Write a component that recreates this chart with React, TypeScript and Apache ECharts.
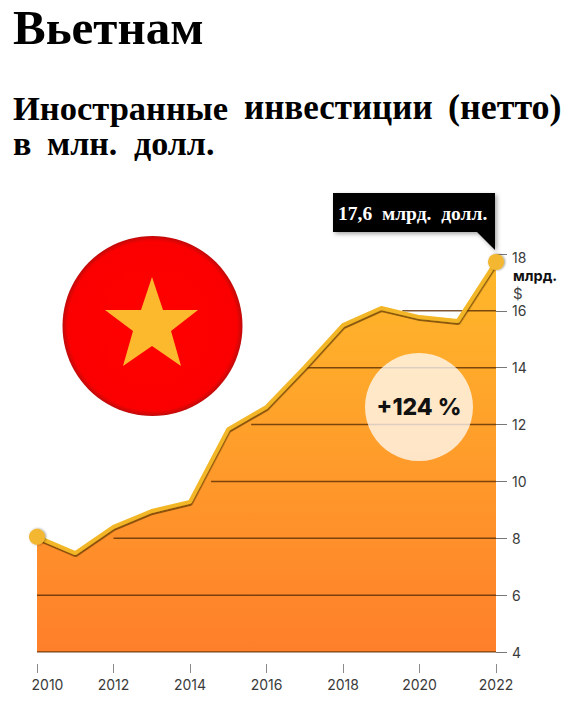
import React, { useEffect, useRef } from "react";
import * as echarts from "echarts";

const years = [2010, 2011, 2012, 2013, 2014, 2015, 2016, 2017, 2018, 2019, 2020, 2021, 2022];
const investment = [8.05, 7.48, 8.4, 8.96, 9.28, 11.84, 12.62, 14.02, 15.5, 16.1, 15.78, 15.64, 17.72];
const gridLevels = [4, 6, 8, 10, 12, 14, 16];
const gridStarts = [2010, 2010, 2012, 2014.55, 2015.6, 2017, 2019.55];
const titleText = "Вьетнам";
const subtitleWords = ["Иностранные", "инвестиции", "(нетто)"];
const subtitleLine2 = ["в", "млн.", "долл."];

const SERIF = '"Liberation Serif", "DejaVu Serif", serif';
const SANS = 'Inter, "Noto Sans", sans-serif';

export default function App() {
  const ref = useRef<HTMLDivElement>(null);
  useEffect(() => {
    const chart = echarts.init(ref.current!, undefined, { renderer: "svg" });
    const pairs = years.map((y, i) => [y, investment[i]]);
    chart.setOption({
      animation: false,
      backgroundColor: "#ffffff",
      grid: { left: 37, right: 73, top: 254, bottom: 49 },
      xAxis: {
        type: "value",
        min: 2010,
        max: 2022,
        interval: 2,
        offset: 12,
        splitLine: { show: false },
        axisLine: { show: false },
        axisTick: { show: true, length: 9, lineStyle: { color: "#8a8a8a", width: 1 } },
        axisLabel: {
          margin: 13,
          color: "#3a3a3a",
          fontFamily: SANS,
          fontSize: 14,
          formatter: (v: number) => (v === 2010 ? `{first|${v}}` : String(v)),
          rich: {
            first: { padding: [0, 0, 0, 21], color: "#3a3a3a", fontFamily: SANS, fontSize: 14 },
          },
        },
      },
      yAxis: {
        type: "value",
        position: "right",
        min: 4,
        max: 18,
        interval: 2,
        splitLine: { show: false },
        axisLine: { show: false },
        axisTick: { show: true, length: 11, lineStyle: { color: "#777777", width: 1 } },
        axisLabel: {
          margin: 16,
          color: "#3a3a3a",
          fontFamily: SANS,
          fontSize: 14,
          formatter: (v: number) => (v === 18 ? `{top|${v}}` : String(v)),
          rich: {
            top: { padding: [6, 0, 0, 0], color: "#3a3a3a", fontFamily: SANS, fontSize: 14 },
          },
        },
      },
      series: [
        {
          type: "line",
          data: pairs,
          symbol: "none",
          z: 2,
          lineStyle: { width: 0 },
          areaStyle: {
            opacity: 1,
            color: new echarts.graphic.LinearGradient(0, 0, 0, 1, [
              { offset: 0, color: "#FFB92B" },
              { offset: 1, color: "#FF7F2A" },
            ]),
          },
        },
        ...gridLevels.map((lvl, i) => ({
          type: "line",
          data: [[gridStarts[i], lvl], [2022, lvl]],
          symbol: "none",
          z: 3,
          silent: true,
          lineStyle: { width: 1.5, color: "rgba(90,45,5,0.8)" },
        })),
        {
          type: "line",
          data: pairs,
          symbol: "none",
          z: 4,
          lineStyle: {
            width: 4,
            color: "#F2B628",
            shadowColor: "rgba(90,50,0,0.7)",
            shadowBlur: 1,
            shadowOffsetY: 2,
            shadowOffsetX: 0.5,
          },
        },
        {
          type: "scatter",
          data: [pairs[0], pairs[pairs.length - 1]],
          symbol: "circle",
          symbolSize: 16,
          clip: false,
          z: 5,
          itemStyle: { opacity: 1, color: "#F3B733", shadowColor: "rgba(60,40,0,0.5)", shadowBlur: 2, shadowOffsetX: 1 },
        },
      ],
      graphic: [
        { type: "text", x: 13, y: 3, style: { text: titleText, font: `bold 49px ${SERIF}`, fill: "#000" } },
        { type: "text", x: 13, y: 90, style: { text: subtitleWords[0], font: `bold 34.5px ${SERIF}`, fill: "#000" } },
        { type: "text", x: 244, y: 90, style: { text: subtitleWords[1], font: `bold 35px ${SERIF}`, fill: "#000" } },
        { type: "text", x: 448, y: 89, style: { text: subtitleWords[2], font: `bold 36px ${SERIF}`, fill: "#000" } },
        { type: "text", x: 13, y: 126, style: { text: subtitleLine2[0], font: `bold 34px ${SERIF}`, fill: "#000" } },
        { type: "text", x: 47, y: 126, style: { text: subtitleLine2[1], font: `bold 34px ${SERIF}`, fill: "#000" } },
        { type: "text", x: 134, y: 126, style: { text: subtitleLine2[2], font: `bold 34px ${SERIF}`, fill: "#000" } },
        {
          type: "polygon",
          z: 10,
          shape: { points: [[333, 193], [495, 193], [495, 250], [477, 232], [333, 232]] },
          style: { fill: "#000", shadowColor: "rgba(0,0,0,0.35)", shadowBlur: 4, shadowOffsetX: 2, shadowOffsetY: 2 },
        },
        { type: "text", z: 11, x: 338, y: 203, style: { text: "17,6  млрд.  долл.", font: `bold 19.5px ${SERIF}`, fill: "#fff" } },
        { type: "text", z: 11, x: 513, y: 268, style: { text: "млрд.", font: `bold 14.5px ${SANS}`, fill: "#111" } },
        { type: "text", z: 11, x: 513, y: 286, style: { text: "$", font: `15px ${SANS}`, fill: "#444" } },
        {
          type: "circle",
          z: 10,
          shape: { cx: 152.5, cy: 326, r: 90 },
          style: {
            fill: new echarts.graphic.RadialGradient(0.5, 0.5, 0.5, [
              { offset: 0, color: "#FF0000" },
              { offset: 0.94, color: "#FB0000" },
              { offset: 1, color: "#C00A0A" },
            ]),
          },
        },
        {
          type: "polygon",
          z: 11,
          shape: {
            points: [[152, 277], [163, 310], [198, 310], [171, 331], [181, 366], [152, 346], [123, 366], [133, 331], [105, 310], [141, 310]],
          },
          style: { fill: "#FDB92E" },
        },
        {
          type: "circle",
          z: 10,
          shape: { cx: 419, cy: 407, r: 54 },
          style: { fill: "rgba(255,255,255,0.74)" },
        },
        {
          type: "text",
          z: 11,
          x: 419,
          y: 407,
          style: { text: "+124 %", font: `800 23px ${SANS}`, fill: "#111", textAlign: "center", textVerticalAlign: "middle" },
        },
      ],
    });
    return () => chart.dispose();
  }, []);
  return <div ref={ref} style={{ position: "fixed", left: 0, top: 0, width: 569, height: 701 }} />;
}
